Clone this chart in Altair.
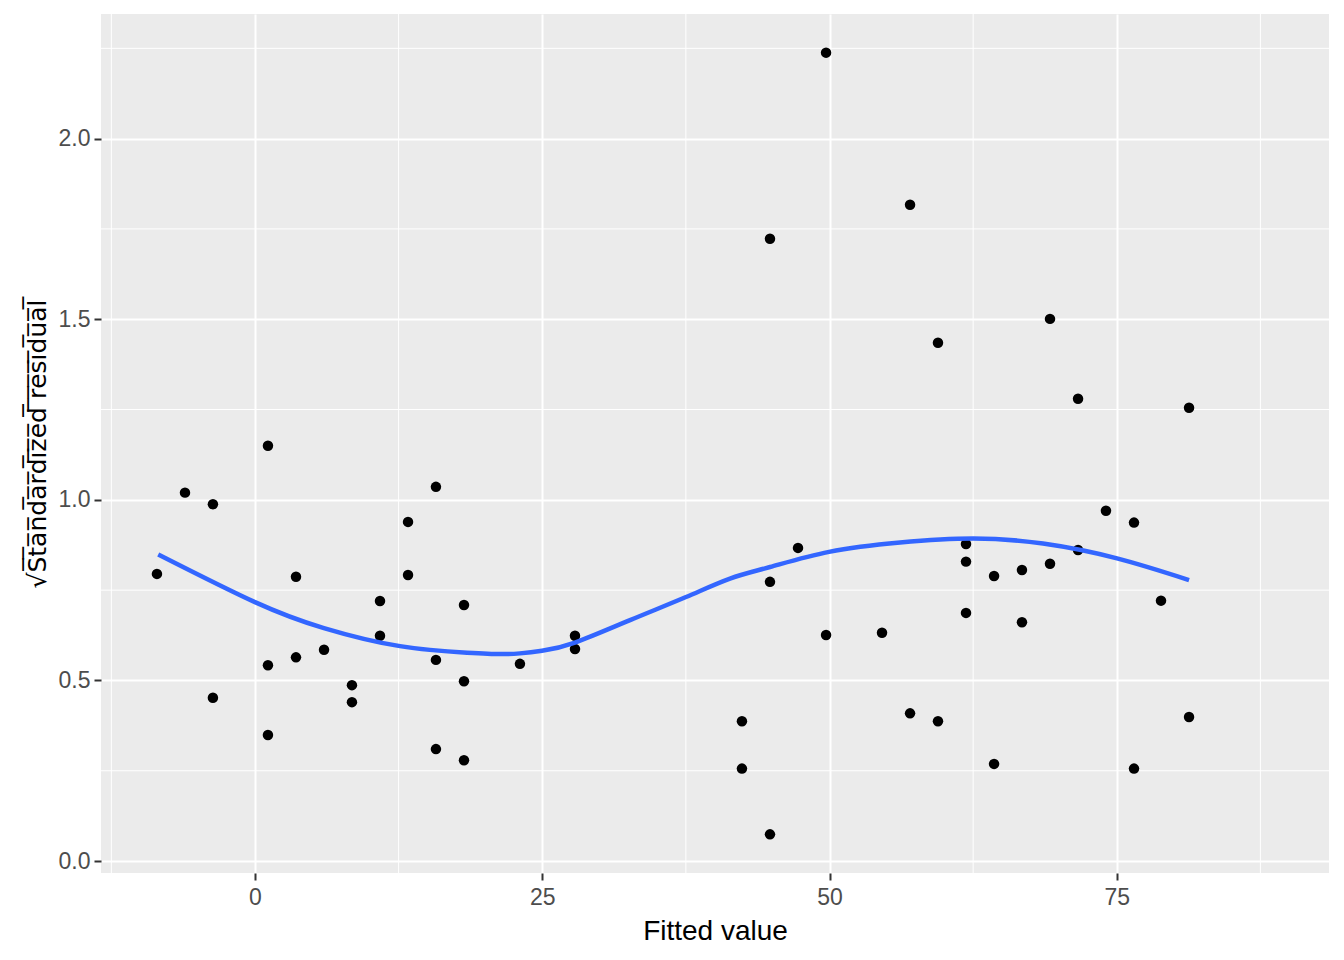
import altair as alt
import pandas as pd

fitted = [-8.53, -6.09, -3.66, -3.66, 1.13, 1.13, 1.13, 3.57, 3.57, 6.01,
          8.44, 8.44, 10.88, 10.88, 13.32, 13.32, 15.75, 15.75, 15.75,
          18.19, 18.19, 18.19, 23.06, 27.85, 27.85, 42.38, 42.38,
          44.82, 44.82, 44.82, 47.26, 49.70, 49.70, 54.57, 57.01, 57.01,
          59.44, 59.44, 61.88, 61.88, 61.88, 64.32, 64.32, 66.75, 66.75,
          69.19, 69.19, 71.63, 71.63, 74.06, 76.50, 76.50, 78.85, 81.29, 81.29]
sqrt_resid = [0.795, 1.020, 0.988, 0.452, 1.150, 0.542, 0.349, 0.787, 0.564, 0.585,
              0.487, 0.440, 0.720, 0.624, 0.939, 0.792, 1.036, 0.557, 0.310,
              0.709, 0.498, 0.279, 0.546, 0.624, 0.587, 0.387, 0.256,
              1.723, 0.773, 0.074, 0.867, 2.238, 0.626, 0.632, 1.817, 0.409,
              1.435, 0.387, 0.878, 0.829, 0.687, 0.789, 0.269, 0.806, 0.661,
              1.501, 0.823, 1.280, 0.861, 0.970, 0.937, 0.256, 0.721, 1.255, 0.399]

smooth_x = [-8.42, 0.0, 6.0, 12.62, 18.46, 21.3, 23.06, 24.98, 27.85, 32.64, 37.51,
            41.34, 44.82, 49.96, 56.14, 62.49, 68.58, 75.02, 81.29]
smooth_y = [0.849, 0.717, 0.645, 0.595, 0.577, 0.573, 0.575, 0.582, 0.605, 0.667, 0.731,
            0.782, 0.814, 0.856, 0.882, 0.893, 0.879, 0.838, 0.778]

x_major = [0, 25, 50, 75]
x_minor = [-12.5, 12.5, 37.5, 62.5, 87.5]
y_major = [0.0, 0.5, 1.0, 1.5, 2.0]
y_minor = [0.25, 0.75, 1.25, 1.75, 2.25]

pts = pd.DataFrame({"x": fitted, "y": sqrt_resid})
sm = pd.DataFrame({"x": smooth_x, "y": smooth_y})
xm = pd.DataFrame({"v": x_minor})
ym = pd.DataFrame({"v": y_minor})

xscale = alt.Scale(domain=[-13.4, 93.47], nice=False, zero=False)
yscale = alt.Scale(domain=[-0.033, 2.345], nice=False, zero=False)

ytitle = "\u221a" + "".join(c + "\u0305" for c in "Standardized residual")

xaxis = alt.Axis(values=x_major, format="d", title="Fitted value", domain=False,
                 grid=True, gridColor="white", gridWidth=2,
                 tickColor="#333333", tickWidth=2, tickSize=7,
                 labelColor="#4D4D4D", labelFontSize=23, labelFont="Liberation Sans",
                 labelPadding=6, titleFont="Liberation Sans", titleFontSize=28,
                 titleFontWeight="normal", titleColor="black", titlePadding=8)
yaxis = alt.Axis(values=y_major, format=".1f", title=ytitle, domain=False,
                 grid=True, gridColor="white", gridWidth=2,
                 tickColor="#333333", tickWidth=2, tickSize=7,
                 labelColor="#4D4D4D", labelFontSize=23, labelFont="Liberation Sans",
                 labelPadding=4, titleFont="DejaVu Sans", titleFontSize=25,
                 titleFontWeight="normal", titleColor="black", titlePadding=8)

vminor = alt.Chart(xm).mark_rule(color="white", strokeWidth=1).encode(
    x=alt.X("v:Q", scale=xscale, axis=xaxis))
hminor = alt.Chart(ym).mark_rule(color="white", strokeWidth=1).encode(
    y=alt.Y("v:Q", scale=yscale, axis=yaxis))
points = alt.Chart(pts).mark_circle(color="black", opacity=1, size=110).encode(
    x=alt.X("x:Q", scale=xscale, axis=xaxis),
    y=alt.Y("y:Q", scale=yscale, axis=yaxis))
line = alt.Chart(sm).mark_line(color="#3366FF", strokeWidth=4.5, interpolate="natural").encode(
    x=alt.X("x:Q", scale=xscale, axis=xaxis),
    y=alt.Y("y:Q", scale=yscale, axis=yaxis))

chart = alt.layer(vminor, hminor, points, line).properties(
    width=1228, height=859,
    autosize=alt.AutoSizeParams(type="none"),
    padding={"left": 93, "top": 6, "right": 7, "bottom": 80},
).configure_view(fill="#EBEBEB", stroke=None)

chart.save("out.html", embed_options={"renderer": "svg", "actions": False})
